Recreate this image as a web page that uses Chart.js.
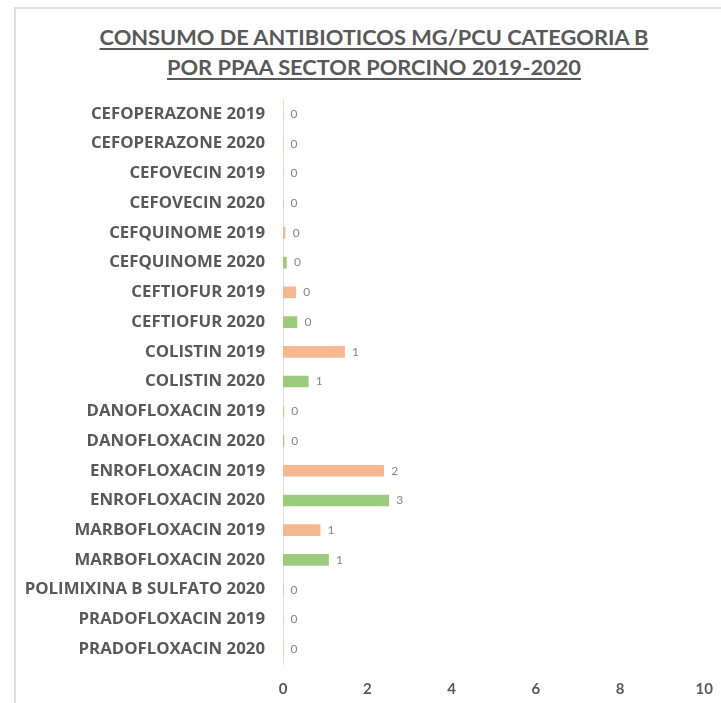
<!DOCTYPE html>
<html lang="es">
<head>
    <meta charset="UTF-8">
    <title>Consumo de antibioticos categoria B</title>
    <script src="https://cdn.jsdelivr.net/npm/chart.js"></script>
    <style>
        html, body { margin: 0; padding: 0; background: #fff; overflow: hidden; }
        body { width: 721px; height: 703px; position: relative; font-family: Lato, "Liberation Sans", sans-serif; }
        .marco {
            position: absolute; left: 14px; top: 7px;
            width: 800px; height: 800px;
            border: 2px solid #dedede;
        }
        .titulo {
            position: absolute; left: 0; top: 22px; width: 748px;
            text-align: center; color: #595959;
            font-size: 21.8px; font-weight: 700; line-height: 30px;
            text-decoration: underline; text-decoration-thickness: 2px; text-underline-offset: 3px;
        }
        .grafico { position: absolute; left: 0; top: 79px; width: 721px; height: 631px; }
    </style>
</head>
<body>
<div class="marco"></div>
<div class="titulo">CONSUMO DE ANTIBIOTICOS MG/PCU CATEGORIA B<br>POR PPAA SECTOR PORCINO 2019-2020</div>
<div class="grafico"><canvas id="graficoConsumo"></canvas></div>
<script>
    // datos (mg/PCU)
    const categorias = [
        'CEFOPERAZONE 2019', 'CEFOPERAZONE 2020', 'CEFOVECIN 2019', 'CEFOVECIN 2020',
        'CEFQUINOME 2019', 'CEFQUINOME 2020', 'CEFTIOFUR 2019', 'CEFTIOFUR 2020',
        'COLISTIN 2019', 'COLISTIN 2020', 'DANOFLOXACIN 2019', 'DANOFLOXACIN 2020',
        'ENROFLOXACIN 2019', 'ENROFLOXACIN 2020', 'MARBOFLOXACIN 2019', 'MARBOFLOXACIN 2020',
        'POLIMIXINA B SULFATO 2020', 'PRADOFLOXACIN 2019', 'PRADOFLOXACIN 2020'
    ];
    const valores = [
        0, 0, 0, 0,
        0.05, 0.08, 0.30, 0.33,
        1.46, 0.60, 0.02, 0.02,
        2.39, 2.51, 0.88, 1.08,
        0, 0, 0
    ];
    const ticksX = [0, 2, 4, 6, 8, 10];

    const color2019 = '#f6b890';
    const color2020 = '#9ccb7c';
    const grisTexto = '#595959';

    const coloresBarras = categorias.map(c => c.endsWith('2019') ? color2019 : color2020);

    // etiquetas de valor al final de cada barra
    const etiquetasValor = {
        id: 'etiquetasValor',
        afterDatasetsDraw(chart) {
            const ctx = chart.ctx;
            const meta = chart.getDatasetMeta(0);
            ctx.save();
            ctx.font = '12px Lato, "Liberation Sans", sans-serif';
            ctx.fillStyle = '#858585';
            ctx.textAlign = 'center';
            ctx.textBaseline = 'middle';
            meta.data.forEach((bar, i) => {
                ctx.fillText(String(Math.round(valores[i])), bar.x + 11, bar.y);
            });
            ctx.restore();
        }
    };

    new Chart(document.getElementById('graficoConsumo'), {
        type: 'bar',
        data: {
            labels: categorias,
            datasets: [{
                data: valores,
                backgroundColor: coloresBarras,
                barThickness: 11
            }]
        },
        options: {
            indexAxis: 'y',
            responsive: true,
            maintainAspectRatio: false,
            animation: false,
            layout: { padding: { top: 8, right: 11, bottom: 4, left: 0 } },
            plugins: {
                legend: { display: false },
                tooltip: { enabled: false }
            },
            scales: {
                x: {
                    min: 0, max: 10,
                    afterBuildTicks(scale) { scale.ticks = ticksX.map(v => ({ value: v })); },
                    grid: { display: false },
                    border: { display: false },
                    ticks: { padding: 8, color: grisTexto, font: { family: 'Lato', size: 15, weight: 'bold' } }
                },
                y: {
                    afterFit(scale) { scale.width = 283; },
                    grid: { display: false },
                    border: { display: true, color: '#e0e0e0', width: 1 },
                    ticks: { padding: 10, color: grisTexto, font: { family: 'Open Sans', size: 16.8, weight: 'bold' } }
                }
            }
        },
        plugins: [etiquetasValor]
    });
</script>
</body>
</html>
